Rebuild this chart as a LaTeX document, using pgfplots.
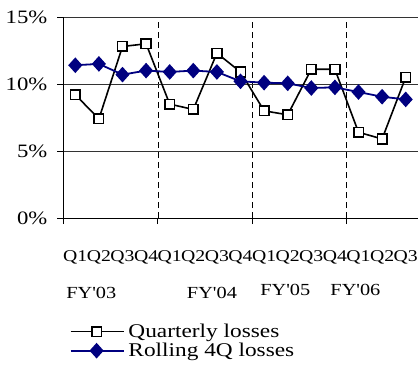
\documentclass[border=0pt]{standalone}
\usepackage{fontspec}
\setmainfont{Liberation Serif}[FakeStretch=1.2, Ligatures=TeXOff]
\usepackage{pgfplots}
\pgfplotsset{compat=1.18}
\definecolor{navyline}{RGB}{0,0,128}

\begin{document}
\begin{tikzpicture}
\begin{axis}[
  at={(0,0)}, anchor=south west,
  scale only axis, width=354bp, height=201bp,
  xmin=-0.5, xmax=14.5, ymin=0, ymax=15,
  axis x line=bottom, axis y line=left,
  axis line style={-, black, line width=0.8bp},
  clip=false,
  font=\fontsize{19}{21}\selectfont,
  /pgf/number format/assume math mode=true,
  ytick={0,5,10,15},
  yticklabel={\pgfmathprintnumber{\tick}\%},
  yticklabel style={xshift=-8bp, inner xsep=2bp},
  ymajorgrids, y grid style={black!80, line width=0.8bp},
  xtick={-0.5,3.5,7.5,11.5}, xticklabels={},
  xmajorgrids, x grid style={black, dashed, dash pattern=on 6bp off 4bp, line width=0.7bp},
  tick align=outside, major tick length=6bp,
  tick style={black, line width=0.8bp},
  extra x ticks={0,1,2,3,4,5,6,7,8,9,10,11,12,13,14},
  extra x tick labels={Q1,Q2,Q3,Q4,Q1,Q2,Q3,Q4,Q1,Q2,Q3,Q4,Q1,Q2,Q3},
  extra x tick style={major tick length=0pt, grid=none,
    tick label style={yshift=-29bp, inner xsep=0pt, font=\fontsize{16.5}{18}\selectfont}},
  legend style={at={(0,0)}, anchor=north west, xshift=6bp, yshift=-106bp,
    draw=none, fill=none, font=\fontsize{19.5}{19.5}\selectfont,
    row sep=4bp, inner sep=0pt, nodes={inner xsep=4bp, inner ysep=0pt}},
  legend cell align=left,
  legend image code/.code={%
    \draw[mark repeat=2, mark phase=2, #1] plot coordinates {(0bp,0bp) (26bp,0bp) (53bp,0bp)};},
]
\addplot[black, line width=1.6bp, mark=square*, mark size=4.8bp,
  mark options={fill=white, solid}]
  coordinates {
  (0,9.2) (1,7.4) (2,12.8) (3,13.0)
  (4,8.5) (5,8.1) (6,12.3) (7,10.9)
  (8,8.0) (9,7.7) (10,11.1) (11,11.1)
  (12,6.4) (13,5.9) (14,10.5)};
\addlegendentry{Quarterly losses}
\addplot[navyline, line width=1.8bp, mark=diamond*, mark size=6.5bp,
  mark options={fill=navyline, solid, xscale=1.2}]
  coordinates {
  (0,11.4) (1,11.5) (2,10.7) (3,11.0)
  (4,10.9) (5,11.0) (6,10.9) (7,10.2)
  (8,10.1) (9,10.05) (10,9.7) (11,9.75)
  (12,9.4) (13,9.05) (14,8.85)};
\addlegendentry{Rolling 4Q losses}
\node[font=\fontsize{17}{19}\selectfont] at (axis cs:0.68,-5.6) {FY'03};
\node[font=\fontsize{17}{19}\selectfont] at (axis cs:5.79,-5.6) {FY'04};
\node[font=\fontsize{17}{19}\selectfont] at (axis cs:8.9,-5.4) {FY'05};
\node[font=\fontsize{17}{19}\selectfont] at (axis cs:11.87,-5.4) {FY'06};
\end{axis}
\pgfresetboundingbox
\useasboundingbox (-63.5bp,-156bp) rectangle (355.5bp,218bp);
\end{tikzpicture}
\end{document}
